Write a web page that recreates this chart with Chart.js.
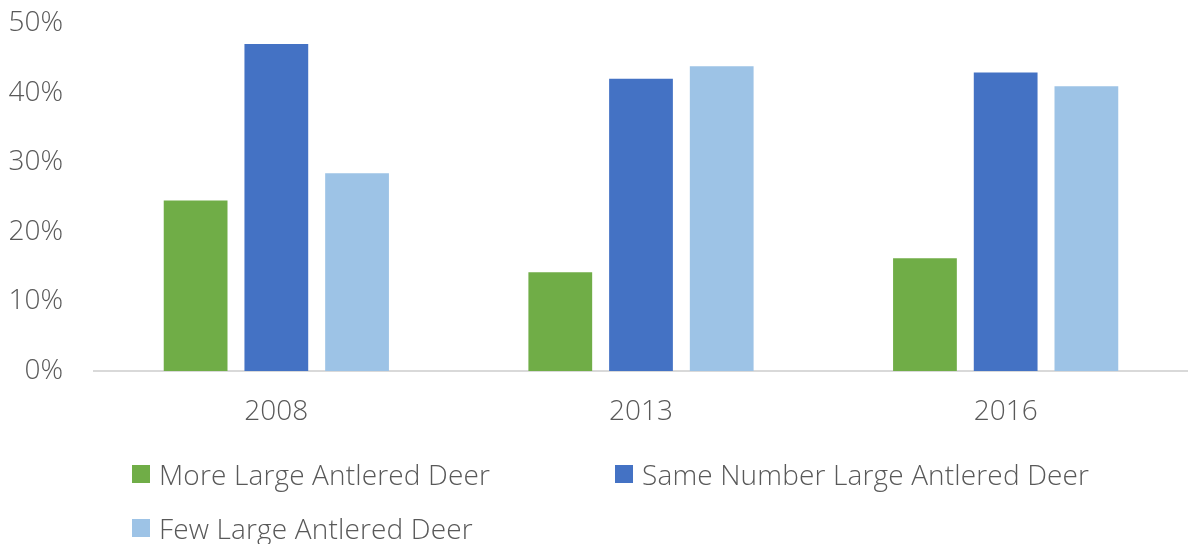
<!DOCTYPE html>
<html lang="en">
<head>
  <meta charset="UTF-8">
  <title>Large Antlered Deer</title>
  <style>
    body { margin: 0; background: #fff; font-family: "Open Sans", sans-serif; }
    #wrap { position: relative; width: 1188px; height: 544px; }
    #box { width: 1188px; height: 441px; }
    .legend { position: absolute; left: 0; top: 0; width: 1188px; height: 544px; pointer-events: none; }
    .item { position: absolute; display: flex; align-items: center; color: #595959; font-size: 28px; font-weight: 300; letter-spacing: 0.15px; white-space: nowrap; }
    .item span.sw { display: inline-block; width: 18px; height: 18px; margin-right: 9px; }
  </style>
</head>
<body>
  <div id="wrap">
    <div id="box"><canvas id="chart"></canvas></div>
    <div class="legend" id="legend"></div>
  </div>
  <script src="https://cdn.jsdelivr.net/npm/chart.js"></script>
  <script>
    // data (percent)
    const years = ["2008", "2013", "2016"];
    const moreDeer = [24.5, 14.2, 16.2];
    const sameDeer = [47.0, 42.0, 42.9];
    const fewDeer = [28.4, 43.8, 40.9];
    const seriesNames = ["More Large Antlered Deer", "Same Number Large Antlered Deer", "Few Large Antlered Deer"];
    const seriesColors = ["#70AD47", "#4472C4", "#9DC3E6"];
    const yTicks = [0, 10, 20, 30, 40, 50];

    const textColor = "#595959";
    const font = { family: "Open Sans", size: 28, weight: 300 };

    const chart = new Chart(document.getElementById("chart"), {
      type: "bar",
      data: {
        labels: years,
        datasets: [moreDeer, sameDeer, fewDeer].map((vals, i) => ({
          label: seriesNames[i],
          data: vals,
          backgroundColor: seriesColors[i],
          categoryPercentage: 0.664,
          barPercentage: 0.79
        }))
      },
      options: {
        responsive: true,
        maintainAspectRatio: false,
        animation: false,
        layout: { padding: 0 },
        plugins: { legend: { display: false }, tooltip: { enabled: false } },
        scales: {
          x: {
            grid: { display: false, drawTicks: false },
            border: { display: true, color: "#D9D9D9", width: 2 },
            ticks: { color: textColor, font: font, padding: 24, maxRotation: 0 },
            afterFit: (s) => { s.height = 70; s.paddingLeft = 0; s.paddingRight = 0; }
          },
          y: {
            min: 0,
            max: 50,
            afterBuildTicks: (s) => { s.ticks = yTicks.map(v => ({ value: v })); },
            grid: { display: false, drawTicks: false },
            border: { display: false },
            ticks: { color: textColor, font: font, padding: 31, callback: (v) => v + "%" },
            afterFit: (s) => { s.width = 94; s.paddingTop = 23; s.paddingBottom = 0; }
          }
        }
      }
    });

    // legend, laid out like the original (two items on the first row, one below)
    const legendPos = [[132, 474], [615, 474], [132, 528]];
    const legend = document.getElementById("legend");
    chart.data.datasets.forEach((ds, i) => {
      const el = document.createElement("div");
      el.className = "item";
      el.style.left = legendPos[i][0] + "px";
      el.style.top = (legendPos[i][1] - 20) + "px";
      el.style.height = "40px";
      const sw = document.createElement("span");
      sw.className = "sw";
      sw.style.background = ds.backgroundColor;
      el.appendChild(sw);
      el.appendChild(document.createTextNode(ds.label));
      legend.appendChild(el);
    });
  </script>
</body>
</html>
